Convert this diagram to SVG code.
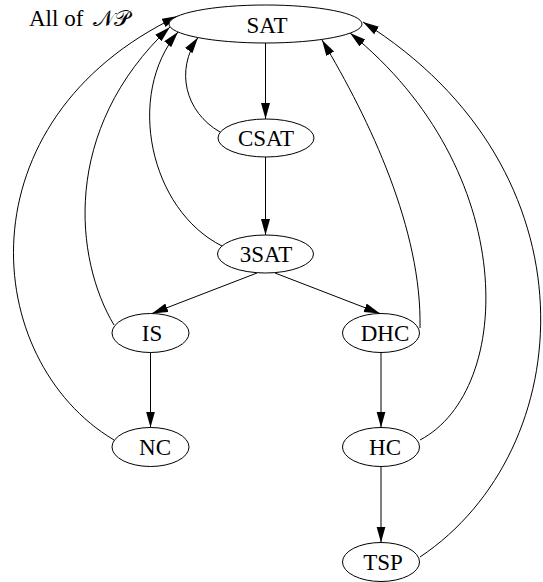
<svg xmlns="http://www.w3.org/2000/svg" width="543" height="582" viewBox="0 0 543 582">
<style>
.n ellipse{fill:#fff;stroke:#000;stroke-width:1}
text{font-family:"Liberation Serif","Times New Roman",serif;font-size:23px;fill:#000}
.n text{text-anchor:middle}
.e path{fill:none;stroke:#000;stroke-width:1;marker-end:url(#ah)}
</style>
<defs>
<marker id="ah" markerUnits="userSpaceOnUse" markerWidth="16" markerHeight="10" refX="16" refY="4.5" orient="auto">
<path d="M0,0 L16,4.5 L0,9 Z" fill="#000"/>
</marker>
</defs>
<text id="label" x="29" y="26" font-size="21">All of <tspan x="93" font-family="'DejaVu Serif','DejaVu Sans',serif" font-size="22">𝒩𝒫</tspan></text>
<g class="e" id="connectors">
<path d="M265.5,43 L265.5,119"/>
<path d="M265.5,157 L265.5,235"/>
<path d="M257,273 L152,313.5"/>
<path d="M275,273 L380,313.5"/>
<path d="M150.5,352.5 L150.5,427.5"/>
<path d="M381,352.5 L381,427.5"/>
<path d="M381,466.5 L381,542.5"/>
<path d="M220,132 C185,112 175,70 198,37.5"/>
<path d="M222,246 C150,210 125,95 178,32"/>
<path d="M114,325 C75,260 60,130 170,27"/>
<path d="M114,440 C-20,360 -40,120 178,16"/>
<path d="M420,328 C422,230 370,120 322,40"/>
<path d="M420,440 C515,390 520,170 350,33"/>
<path d="M420,557 C580,450 600,170 363,22"/>
</g>
<g class="n" id="SAT"><ellipse cx="265.5" cy="24" rx="96.5" ry="19"/><text x="267" y="33">SAT</text></g>
<g class="n" id="CSAT"><ellipse cx="266" cy="138" rx="48" ry="19"/><text x="266" y="146">CSAT</text></g>
<g class="n" id="3SAT"><ellipse cx="265.5" cy="254" rx="48" ry="19"/><text x="266" y="262">3SAT</text></g>
<g class="n" id="IS"><ellipse cx="150.5" cy="333" rx="38.5" ry="19.5"/><text x="152" y="341">IS</text></g>
<g class="n" id="DHC"><ellipse cx="381" cy="333" rx="38.5" ry="19.5"/><text x="385" y="341">DHC</text></g>
<g class="n" id="NC"><ellipse cx="150.5" cy="447" rx="38.5" ry="19.5"/><text x="155" y="455">NC</text></g>
<g class="n" id="HC"><ellipse cx="381" cy="447" rx="38.5" ry="19.5"/><text x="385" y="455">HC</text></g>
<g class="n" id="TSP"><ellipse cx="381" cy="562" rx="38.5" ry="19.5"/><text x="383" y="570">TSP</text></g>
</svg>
